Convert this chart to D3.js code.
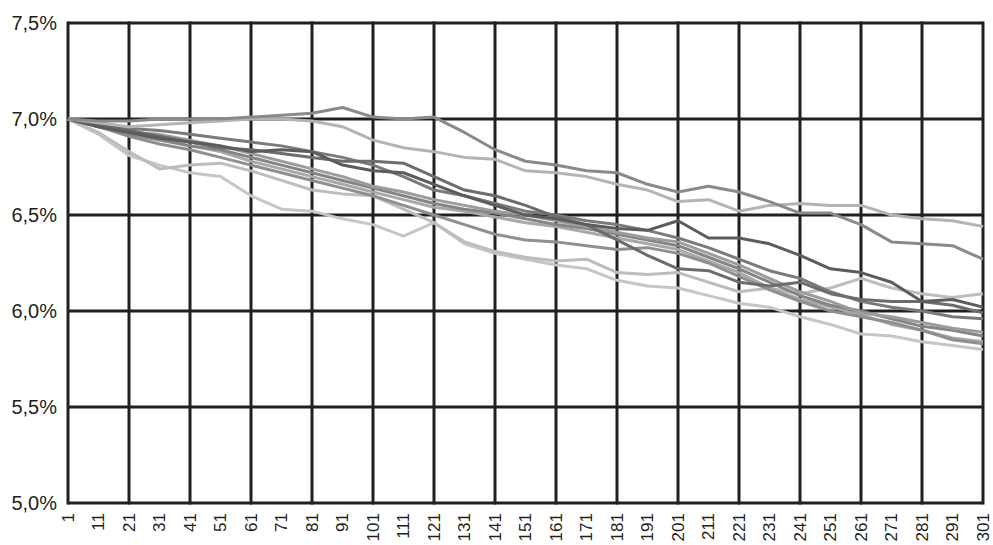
<!DOCTYPE html>
<html>
<head>
<meta charset="utf-8">
<script src="https://cdn.jsdelivr.net/npm/d3@7"></script>
<style>
  body { margin: 0; background: #fff; }
  svg { display: block; }
</style>
</head>
<body>
<script>
const W = 993, H = 545;
const margin = { top: 23, right: 10, bottom: 42, left: 68 };

// x positions of the readings (every 10th step)
const steps = [1, 11, 21, 31, 41, 51, 61, 71, 81, 91, 101, 111, 121, 131, 141, 151,
  161, 171, 181, 191, 201, 211, 221, 231, 241, 251, 261, 271, 281, 291, 301];

const xTickLabels = [1, 11, 21, 31, 41, 51, 61, 71, 81, 91, 101, 111, 121, 131, 141, 151,
  161, 171, 181, 191, 201, 211, 221, 231, 241, 251, 261, 271, 281, 291, 301];
const xGrid = [1, 21, 41, 61, 81, 101, 121, 141, 161, 181, 201, 221, 241, 261, 281, 301];
const yTicks = [5.0, 5.5, 6.0, 6.5, 7.0, 7.5];

// rate paths, in %
const seriesA = [7.00, 6.98, 6.96, 6.97, 6.98, 6.99, 7.00, 7.00, 6.99, 6.96, 6.89, 6.85, 6.83, 6.80, 6.79, 6.73,
  6.72, 6.70, 6.66, 6.63, 6.57, 6.58, 6.52, 6.55, 6.56, 6.55, 6.55, 6.50, 6.48, 6.47, 6.44];
const seriesB = [7.00, 6.99, 6.99, 7.00, 7.00, 7.00, 7.01, 7.02, 7.03, 7.06, 7.01, 7.00, 7.01, 6.93, 6.84, 6.78,
  6.76, 6.73, 6.72, 6.66, 6.62, 6.65, 6.62, 6.57, 6.51, 6.51, 6.45, 6.36, 6.35, 6.34, 6.27];
const seriesC = [7.00, 6.93, 6.83, 6.74, 6.76, 6.77, 6.73, 6.68, 6.63, 6.61, 6.60, 6.53, 6.46, 6.36, 6.31, 6.28,
  6.26, 6.27, 6.20, 6.19, 6.20, 6.15, 6.10, 6.12, 6.09, 6.12, 6.17, 6.12, 6.09, 6.07, 6.09];
const seriesD = [7.00, 6.96, 6.93, 6.90, 6.88, 6.86, 6.83, 6.84, 6.83, 6.76, 6.73, 6.72, 6.66, 6.60, 6.55, 6.50,
  6.48, 6.45, 6.43, 6.42, 6.47, 6.38, 6.38, 6.35, 6.29, 6.22, 6.20, 6.15, 6.05, 6.06, 6.02];
const seriesE = [7.00, 6.97, 6.94, 6.91, 6.88, 6.85, 6.84, 6.82, 6.80, 6.78, 6.78, 6.77, 6.70, 6.63, 6.60, 6.55,
  6.49, 6.45, 6.37, 6.29, 6.22, 6.21, 6.15, 6.13, 6.15, 6.09, 6.06, 6.05, 6.05, 6.03, 5.99];
const seriesF = [7.00, 6.98, 6.95, 6.94, 6.92, 6.90, 6.88, 6.86, 6.83, 6.80, 6.76, 6.70, 6.63, 6.60, 6.56, 6.52,
  6.50, 6.47, 6.45, 6.42, 6.38, 6.33, 6.27, 6.21, 6.17, 6.10, 6.05, 6.02, 6.00, 5.97, 5.96];
const seriesG = [7.00, 6.97, 6.93, 6.92, 6.89, 6.86, 6.82, 6.78, 6.74, 6.70, 6.65, 6.62, 6.58, 6.55, 6.52, 6.50,
  6.47, 6.44, 6.41, 6.38, 6.36, 6.30, 6.24, 6.17, 6.10, 6.05, 5.99, 5.97, 5.94, 5.91, 5.89];
const seriesH = [7.00, 6.96, 6.92, 6.89, 6.86, 6.84, 6.80, 6.76, 6.72, 6.68, 6.64, 6.60, 6.56, 6.53, 6.51, 6.48,
  6.45, 6.43, 6.40, 6.37, 6.34, 6.28, 6.22, 6.15, 6.08, 6.03, 6.00, 5.96, 5.92, 5.90, 5.87];
const seriesK = [7.00, 6.97, 6.94, 6.90, 6.86, 6.83, 6.78, 6.74, 6.70, 6.66, 6.62, 6.58, 6.54, 6.52, 6.49, 6.46,
  6.44, 6.41, 6.38, 6.35, 6.32, 6.26, 6.20, 6.12, 6.06, 6.02, 5.98, 5.93, 5.90, 5.86, 5.84];
const seriesL = [7.00, 6.96, 6.91, 6.87, 6.84, 6.80, 6.76, 6.72, 6.68, 6.64, 6.60, 6.55, 6.50, 6.45, 6.40, 6.37,
  6.36, 6.34, 6.32, 6.33, 6.30, 6.25, 6.18, 6.11, 6.05, 6.00, 5.97, 5.94, 5.90, 5.85, 5.83];
const seriesJ = [7.00, 6.92, 6.81, 6.76, 6.72, 6.70, 6.60, 6.53, 6.52, 6.48, 6.45, 6.39, 6.46, 6.35, 6.30, 6.27,
  6.24, 6.22, 6.16, 6.13, 6.12, 6.08, 6.04, 6.02, 5.97, 5.93, 5.88, 5.87, 5.84, 5.82, 5.80];

const allSeries = [
  { values: seriesJ, colour: "#c6c6c6" },
  { values: seriesC, colour: "#bdbdbd" },
  { values: seriesK, colour: "#a8a8a8" },
  { values: seriesL, colour: "#8f8f8f" },
  { values: seriesH, colour: "#858585" },
  { values: seriesG, colour: "#9c9c9c" },
  { values: seriesF, colour: "#7a7a7a" },
  { values: seriesE, colour: "#6c6c6c" },
  { values: seriesD, colour: "#5c5c5c" },
  { values: seriesA, colour: "#b4b4b4" },
  { values: seriesB, colour: "#8a8a8a" }
];

const width = W - margin.left - margin.right;
const height = H - margin.top - margin.bottom;

const svg = d3.select("body").append("svg").attr("width", W).attr("height", H);

const xScale = d3.scaleLinear().domain([1, 301]).range([0, width]);
const yScale = d3.scaleLinear().domain([5.0, 7.5]).range([height, 0]);

const g = svg.append("g")
  .attr("transform", "translate(" + margin.left + "," + margin.top + ")");

const gridColour = "#231f20";

// grid
g.selectAll(".hgrid")
  .data(yTicks)
  .enter()
  .append("line")
  .attr("x1", 0)
  .attr("x2", width)
  .attr("y1", (d) => yScale(d))
  .attr("y2", (d) => yScale(d))
  .attr("stroke", gridColour)
  .attr("stroke-width", 3);

g.selectAll(".vgrid")
  .data(xGrid)
  .enter()
  .append("line")
  .attr("x1", (d) => xScale(d))
  .attr("x2", (d) => xScale(d))
  .attr("y1", -1.5)
  .attr("y2", height + 1.5)
  .attr("stroke", gridColour)
  .attr("stroke-width", 3);

// paths
const line = d3.line()
  .x((d, i) => xScale(steps[i]))
  .y((d) => yScale(d));

g.selectAll(".rate")
  .data(allSeries)
  .enter()
  .append("path")
  .attr("d", (d) => line(d.values))
  .attr("fill", "none")
  .attr("stroke", (d) => d.colour)
  .attr("stroke-width", 3)
  .attr("stroke-linejoin", "round");

// y axis labels
const yAxis = d3.axisLeft(yScale)
  .tickValues(yTicks)
  .tickSize(0)
  .tickPadding(11)
  .tickFormat((d) => d.toFixed(1).replace(".", ",") + "%");
g.append("g")
  .call(yAxis)
  .call((a) => a.select(".domain").remove())
  .selectAll("text")
  .attr("font-family", "'Liberation Sans', Arial, sans-serif")
  .attr("font-size", "20px")
  .attr("fill", "#231f20");

// x axis labels
const xAxis = d3.axisBottom(xScale)
  .tickValues(xTickLabels)
  .tickSize(0)
  .tickFormat(d3.format("d"));
g.append("g")
  .attr("transform", "translate(0," + height + ")")
  .call(xAxis)
  .call((a) => a.select(".domain").remove())
  .selectAll("text")
  .attr("font-family", "'Liberation Sans', Arial, sans-serif")
  .attr("font-size", "17px")
  .attr("fill", "#231f20")
  .attr("transform", "rotate(-90)")
  .attr("text-anchor", "end")
  .attr("x", -10)
  .attr("y", 0)
  .attr("dy", "0.32em");
</script>
</body>
</html>
